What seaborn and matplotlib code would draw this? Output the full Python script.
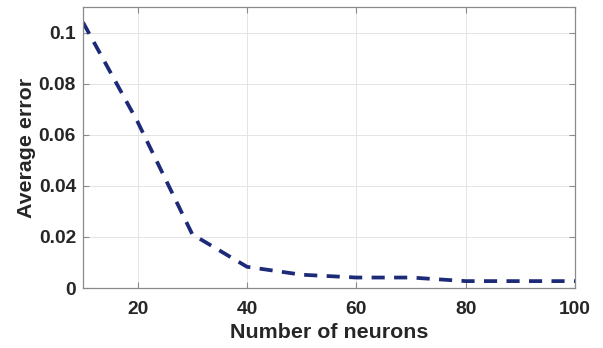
import matplotlib
matplotlib.use("Agg")
import matplotlib.pyplot as plt
import seaborn as sns
import pandas as pd

neurons = [10, 20, 30, 40, 50, 60, 70, 80, 90, 100]
avg_error = [0.104, 0.065, 0.021, 0.0083, 0.0052, 0.0041, 0.0041, 0.0027, 0.0027, 0.0027]
xticks = [20, 40, 60, 80, 100]
yticks = [0, 0.02, 0.04, 0.06, 0.08, 0.1]
ytick_labels = ["0", "0.02", "0.04", "0.06", "0.08", "0.1"]

sns.set_theme(style="whitegrid")
plt.rcParams['font.family'] = ['Liberation Sans', 'DejaVu Sans']

df = pd.DataFrame({"neurons": neurons, "error": avg_error})

fig = plt.figure(figsize=(6.03, 3.48), dpi=100)
ax = fig.add_axes([0.1376, 0.1724, 0.816, 0.8076])

sns.lineplot(data=df, x="neurons", y="error", ax=ax, color="#1c2a78",
             linewidth=2.7, linestyle="--", dashes=False)
ax.lines[0].set_dashes((3.5, 2.5))

ax.set_xlim(10, 100)
ax.set_ylim(0, 0.11)
ax.set_xticks(xticks)
ax.set_xticklabels([str(t) for t in xticks])
ax.set_yticks(yticks)
ax.set_yticklabels(ytick_labels)

ax.grid(True, color="#e4e4e4", linewidth=0.7)
for s in ax.spines.values():
    s.set_visible(True)
    s.set_color("#8a8a8a")
    s.set_linewidth(0.9)

ax.tick_params(axis="both", which="both", direction="in", length=4, width=0.8,
               color="#8a8a8a", labelsize=13.8, labelcolor="#262626",
               top=True, right=True, bottom=True, left=True)
ax.tick_params(axis="x", pad=9)
ax.tick_params(axis="y", pad=5)
for lbl in ax.get_xticklabels() + ax.get_yticklabels():
    lbl.set_fontweight("bold")

ax.set_xlabel("Number of neurons", fontsize=15.4, fontweight="bold", color="#262626", labelpad=4)
ax.set_ylabel("Average error", fontsize=15.4, fontweight="bold", color="#262626", labelpad=2)

fig.savefig("out.png", dpi=100, facecolor="white")
